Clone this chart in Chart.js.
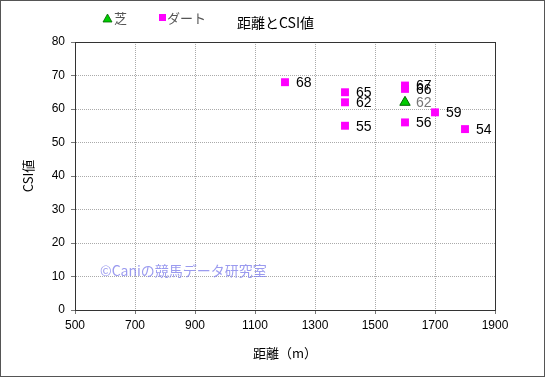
<!DOCTYPE html>
<html>
<head>
<meta charset="utf-8">
<script src="https://cdn.jsdelivr.net/npm/chart.js@4/dist/chart.umd.min.js"></script>
<style>
  html, body { margin: 0; padding: 0; background: #fff; }
  #wrap { width: 545px; height: 377px; }
</style>
</head>
<body>
<div id="wrap"><canvas id="chartCSI" width="545" height="377"></canvas></div>
<script>
// dados
var turfDist = [1600];
var turfCsi = [62];
var dirtDist = [1200, 1400, 1400, 1400, 1600, 1600, 1600, 1700, 1800];
var dirtCsi = [68, 65, 62, 55, 67, 66, 56, 59, 54];
var xTicks = [500, 700, 900, 1100, 1300, 1500, 1700, 1900];
var yTicks = [0, 10, 20, 30, 40, 50, 60, 70, 80];

function pts(xs, ys) {
  var out = [];
  for (var i = 0; i < xs.length; i++) out.push({ x: xs[i], y: ys[i] });
  return out;
}

var jp = '"Noto Sans CJK JP", sans-serif';
var num = '"Liberation Sans", Arial, sans-serif';

// rotulos ao lado dos pontos, titulo, legenda e marca d'agua
var extras = {
  id: 'extras',
  afterDatasetsDraw: function(chart) {
    var ctx = chart.ctx;
    ctx.save();
    ctx.textBaseline = 'middle';
    ctx.textAlign = 'left';
    ctx.font = '14px ' + num;
    chart.data.datasets.forEach(function(ds, di) {
      var meta = chart.getDatasetMeta(di);
      ctx.fillStyle = di === 0 ? '#777777' : '#000000';
      meta.data.forEach(function(el, i) {
        ctx.fillText(String(ds.data[i].y), el.x + 11, el.y + 1);
      });
    });
    // watermark
    ctx.fillStyle = 'rgba(130,130,235,0.8)';
    ctx.font = '14px ' + jp;
    ctx.fillText('©Caniの競馬データ研究室', 100, 271);
    ctx.restore();
  },
  afterDraw: function(chart) {
    var ctx = chart.ctx;
    ctx.save();
    // titulo
    ctx.fillStyle = '#000';
    ctx.font = '14px ' + jp;
    ctx.textAlign = 'left';
    ctx.textBaseline = 'middle';
    ctx.fillText('距離とCSI値', 237, 23);
    // legenda
    ctx.font = '13px ' + jp;
    ctx.beginPath();
    ctx.moveTo(107.5, 14); ctx.lineTo(112, 22); ctx.lineTo(103, 22); ctx.closePath();
    ctx.fillStyle = '#00cc00'; ctx.fill();
    ctx.strokeStyle = '#006600'; ctx.lineWidth = 0.8; ctx.stroke();
    ctx.fillStyle = '#555';
    ctx.fillText('芝', 114, 18);
    ctx.fillStyle = '#ff00ff';
    ctx.fillRect(159, 14, 7, 7);
    ctx.fillStyle = '#555';
    ctx.fillText('ダート', 167, 18);
    // borda externa
    ctx.strokeStyle = '#555';
    ctx.lineWidth = 1;
    ctx.strokeRect(0.5, 0.5, 544, 376);
    ctx.restore();
  }
};

var ctx = document.getElementById('chartCSI').getContext('2d');
var chart = new Chart(ctx, {
  type: 'scatter',
  data: {
    datasets: [{
      label: '芝',
      data: pts(turfDist, turfCsi),
      pointStyle: 'triangle',
      pointRadius: 6,
      backgroundColor: '#00cc00',
      borderColor: '#006600',
      borderWidth: 1
    }, {
      label: 'ダート',
      data: pts(dirtDist, dirtCsi),
      pointStyle: 'rect',
      pointRadius: 5.6,
      backgroundColor: '#ff00ff',
      borderColor: '#ff00ff',
      borderWidth: 0
    }]
  },
  options: {
    responsive: false,
    animation: false,
    layout: { padding: { left: 20, right: 50, top: 42, bottom: 16 } },
    plugins: { legend: { display: false }, title: { display: false }, tooltip: { enabled: false } },
    scales: {
      x: {
        type: 'linear',
        min: 500, max: 1900,
        afterBuildTicks: function(s) { s.ticks = xTicks.map(function(v) { return { value: v }; }); },
        afterFit: function(s) { s.height = 51; },
        ticks: { color: '#000', font: { family: num, size: 12 }, padding: 4, maxRotation: 0,
                 callback: function(v) { return String(v); } },
        grid: { color: '#aaa', tickColor: '#777', tickLength: 4, lineWidth: 1 },
        border: { display: true, color: '#333', width: 1, dash: [1, 1] },
        title: { display: true, text: '距離（m）', color: '#000', font: { family: jp, size: 13 }, padding: 0 }
      },
      y: {
        type: 'linear',
        min: 0, max: 80,
        afterBuildTicks: function(s) { s.ticks = yTicks.map(function(v) { return { value: v }; }); },
        afterFit: function(s) { s.width = 55; },
        ticks: { color: '#000', font: { family: num, size: 12 }, padding: 6 },
        grid: { color: '#aaa', tickColor: '#777', tickLength: 4, lineWidth: 1 },
        border: { display: true, color: '#333', width: 1, dash: [1, 1] },
        title: { display: true, text: 'CSI値', color: '#000', font: { family: jp, size: 13 }, padding: 0 }
      }
    }
  },
  plugins: [extras, {
    id: 'frame',
    beforeDatasetsDraw: function(chart) {
      // moldura solida da area do grafico
      var a = chart.chartArea, c = chart.ctx;
      c.save();
      c.strokeStyle = '#333';
      c.lineWidth = 1;
      c.strokeRect(Math.round(a.left) + 0.5, Math.round(a.top) + 0.5, Math.round(a.right - a.left), Math.round(a.bottom - a.top));
      c.restore();
    }
  }]
});
</script>
</body>
</html>
